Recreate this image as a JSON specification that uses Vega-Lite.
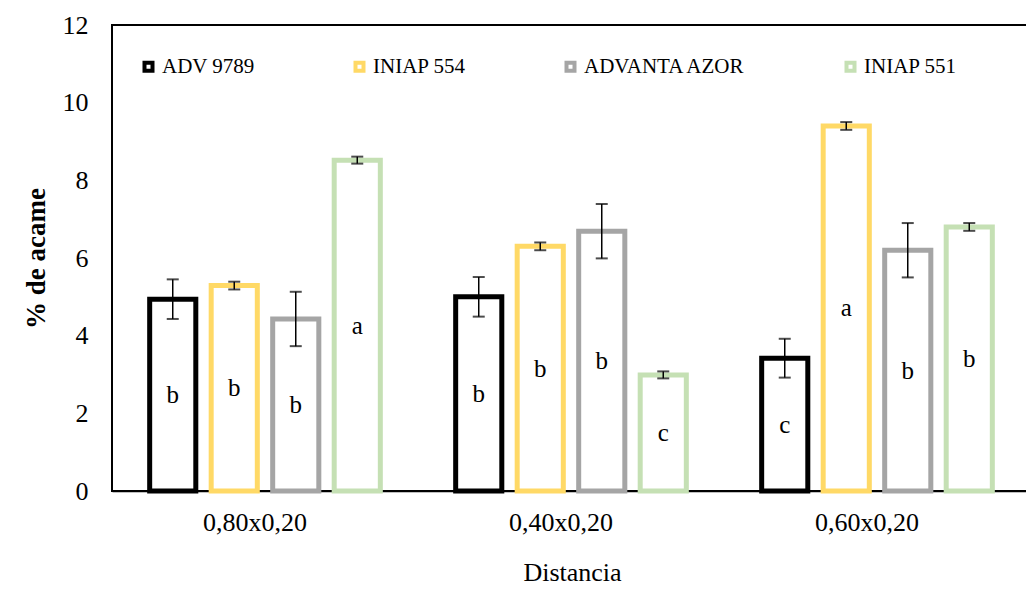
{
  "$schema": "https://vega.github.io/schema/vega-lite/v6.json",
  "width": 918,
  "height": 466,
  "autosize": {"type": "none"},
  "padding": {"left": 112, "top": 25, "right": 0, "bottom": 112},
  "background": "white",
  "config": {
    "font": "Liberation Serif",
    "view": {"stroke": "black", "strokeWidth": 2},
    "legend": {"labelFont": "Liberation Serif", "labelFontSize": 21, "labelLimit": 400}
  },
  "data": {
    "values": [
      {"dist": "0,80x0,20", "var": "ADV 9789", "value": 4.94, "err": 0.51, "letra": "b"},
      {"dist": "0,80x0,20", "var": "INIAP 554", "value": 5.29, "err": 0.1, "letra": "b"},
      {"dist": "0,80x0,20", "var": "ADVANTA AZOR", "value": 4.43, "err": 0.7, "letra": "b"},
      {"dist": "0,80x0,20", "var": "INIAP 551", "value": 8.52, "err": 0.09, "letra": "a"},
      {"dist": "0,40x0,20", "var": "ADV 9789", "value": 5.0, "err": 0.51, "letra": "b"},
      {"dist": "0,40x0,20", "var": "INIAP 554", "value": 6.3, "err": 0.1, "letra": "b"},
      {"dist": "0,40x0,20", "var": "ADVANTA AZOR", "value": 6.69, "err": 0.7, "letra": "b"},
      {"dist": "0,40x0,20", "var": "INIAP 551", "value": 2.99, "err": 0.09, "letra": "c"},
      {"dist": "0,60x0,20", "var": "ADV 9789", "value": 3.42, "err": 0.5, "letra": "c"},
      {"dist": "0,60x0,20", "var": "INIAP 554", "value": 9.4, "err": 0.1, "letra": "a"},
      {"dist": "0,60x0,20", "var": "ADVANTA AZOR", "value": 6.2, "err": 0.7, "letra": "b"},
      {"dist": "0,60x0,20", "var": "INIAP 551", "value": 6.8, "err": 0.1, "letra": "b"}
    ]
  },
  "transform": [
    {"calculate": "datum.value - datum.err", "as": "lo"},
    {"calculate": "datum.value + datum.err", "as": "hi"},
    {"calculate": "datum.value / 2", "as": "mid"}
  ],
  "encoding": {
    "x": {
      "field": "dist", "type": "nominal",
      "sort": ["0,80x0,20", "0,40x0,20", "0,60x0,20"],
      "scale": {"paddingInner": 0.2, "paddingOuter": 0.1},
      "axis": {
        "title": "Distancia", "labelAngle": 0, "labelFontSize": 26, "titleFontSize": 26,
        "labelFont": "Liberation Serif", "titleFont": "Liberation Serif",
        "titleFontWeight": "normal", "labelColor": "black", "titleColor": "black",
        "ticks": false, "domainColor": "black", "domainWidth": 1.5,
        "labelPadding": 18, "titlePadding": 24, "labelOffset": -10, "titleX": 460
      }
    },
    "xOffset": {
      "field": "var", "type": "nominal",
      "sort": ["ADV 9789", "INIAP 554", "ADVANTA AZOR", "INIAP 551"],
      "scale": {"paddingInner": 0.25, "paddingOuter": 0.115}
    }
  },
  "layer": [
    {
      "mark": {"type": "bar", "fill": "white", "strokeWidth": 5},
      "encoding": {
        "y": {
          "field": "value", "type": "quantitative",
          "scale": {"domain": [0, 12], "nice": false},
          "axis": {
            "title": "% de acame", "values": [0, 2, 4, 6, 8, 10, 12],
            "grid": false, "ticks": false, "domain": false,
            "labelFont": "Liberation Serif", "titleFont": "Liberation Serif",
            "labelFontSize": 26, "titleFontSize": 27, "titleFontWeight": "bold",
            "labelColor": "black", "titleColor": "black",
            "labelPadding": 24, "titlePadding": 12
          }
        },
        "stroke": {
          "field": "var", "type": "nominal",
          "sort": ["ADV 9789", "INIAP 554", "ADVANTA AZOR", "INIAP 551"],
          "scale": {
            "domain": ["ADV 9789", "INIAP 554", "ADVANTA AZOR", "INIAP 551"],
            "range": ["#000000", "#FFD966", "#A5A5A5", "#C5E0B4"]
          },
          "legend": {
            "title": null, "orient": "none", "direction": "horizontal", "columns": 4,
            "legendX": 26, "legendY": 31,
            "symbolType": "square", "symbolSize": 64, "symbolStrokeWidth": 4,
            "symbolFillColor": "white", "symbolOpacity": 1,
            "labelFont": "Liberation Serif", "labelLimit": 400,
            "labelFontSize": 21, "labelColor": "black", "labelOffset": 3,
            "columnPadding": 92
          }
        }
      }
    },
    {
      "mark": {"type": "rule", "color": "black", "strokeWidth": 1.5},
      "encoding": {
        "y": {"field": "lo", "type": "quantitative"},
        "y2": {"field": "hi"}
      }
    },
    {
      "mark": {"type": "tick", "color": "black", "thickness": 2, "size": 12, "orient": "horizontal"},
      "encoding": {"y": {"field": "lo", "type": "quantitative"}}
    },
    {
      "mark": {"type": "tick", "color": "black", "thickness": 2, "size": 12, "orient": "horizontal"},
      "encoding": {"y": {"field": "hi", "type": "quantitative"}}
    },
    {
      "mark": {"type": "text", "fontSize": 25, "font": "Liberation Serif", "color": "black", "baseline": "middle"},
      "encoding": {
        "y": {"field": "mid", "type": "quantitative"},
        "text": {"field": "letra"}
      }
    }
  ]
}
